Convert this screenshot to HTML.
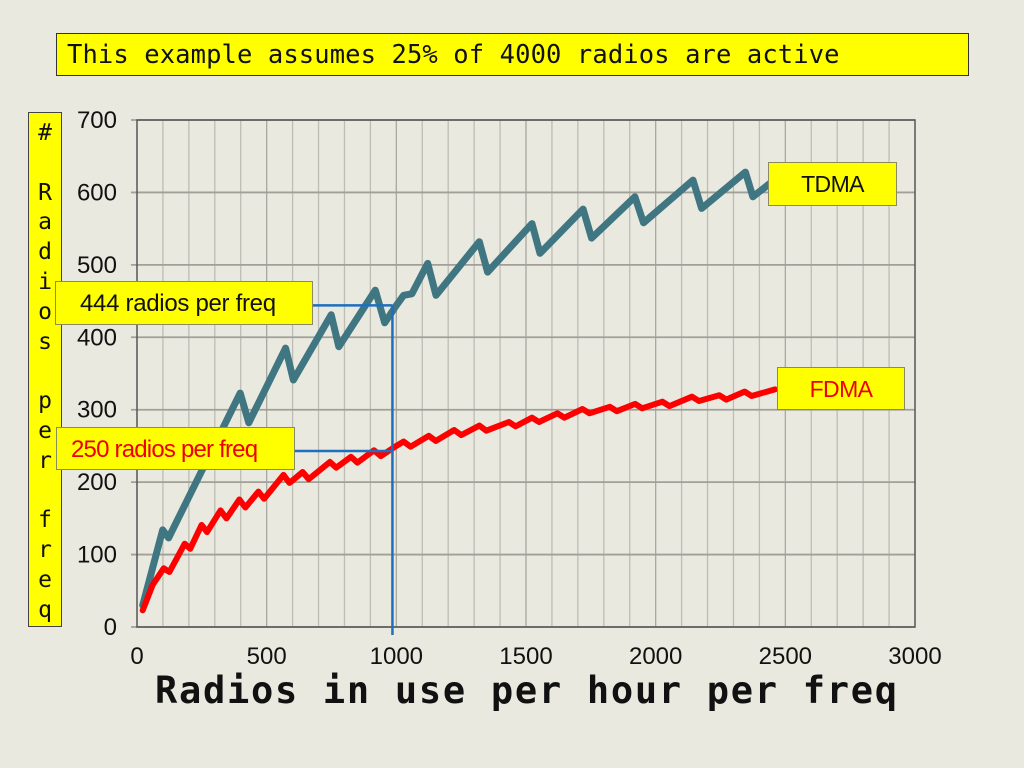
<!DOCTYPE html>
<html><head><meta charset="utf-8">
<style>
html,body{margin:0;padding:0;}
body{width:1024px;height:768px;background:#e9e9e0;position:relative;overflow:hidden;font-family:"Liberation Sans",sans-serif;}
.box{position:absolute;background:#ffff00;border:1px solid #8a8a60;box-sizing:border-box;}
</style></head>
<body>
<div class="box" style="left:56px;top:33px;width:913px;height:43px;border:1.5px solid #333;">
  <span style="position:absolute;left:10px;top:6px;font-family:'DejaVu Sans Mono','Liberation Mono',monospace;font-size:25.5px;color:#111;white-space:nowrap;letter-spacing:0.1px;">This example assumes 25% of 4000 radios are active</span>
</div>
<div class="box" style="left:28px;top:112px;width:34px;height:515px;border:1px solid #444;">
  <div style="position:absolute;left:0;top:6px;width:32px;text-align:center;font-family:'DejaVu Sans Mono','Liberation Mono',monospace;font-size:23px;line-height:29.8px;color:#111;">#<br>&nbsp;<br>R<br>a<br>d<br>i<br>o<br>s<br>&nbsp;<br>p<br>e<br>r<br>&nbsp;<br>f<br>r<br>e<br>q</div>
</div>
<svg id="chart" width="1024" height="768" style="position:absolute;left:0;top:0;">
  <g id="grid"></g>
  <g id="axes"></g>
  <g id="series"></g>
  <text x="526" y="703" text-anchor="middle" font-family="DejaVu Sans Mono, Liberation Mono, monospace" font-weight="bold" font-size="37" fill="#111" textLength="742">Radios in use per hour per freq</text>
</svg>
<div class="box" style="left:768px;top:162px;width:129px;height:44px;"><span style="position:absolute;left:0;width:127px;text-align:center;top:8px;font-size:23px;color:#111;letter-spacing:-0.6px;">TDMA</span></div>
<div class="box" style="left:777px;top:367px;width:128px;height:43px;"><span style="position:absolute;left:0;width:126px;text-align:center;top:8px;font-size:23px;color:#e00;letter-spacing:-0.6px;">FDMA</span></div>
<div class="box" style="left:55px;top:281px;width:258px;height:44px;"><span style="position:absolute;left:24px;top:8px;font-size:24px;color:#111;letter-spacing:-0.3px;white-space:nowrap;">444 radios per freq</span></div>
<div class="box" style="left:56px;top:427px;width:239px;height:43px;"><span style="position:absolute;left:14px;top:8px;font-size:24px;color:#e00;letter-spacing:-0.8px;white-space:nowrap;">250 radios per freq</span></div>
<script>
const xTicks=[0,500,1000,1500,2000,2500,3000];
const yTicks=[0,100,200,300,400,500,600,700];
const tdmaX=[22,99,122,398,431,573,603,749,778,919,955,1000,1028,1060,1121,1153,1320,1352,1523,1554,1720,1753,1920,1953,2144,2177,2346,2375,2460];
const tdmaY=[30,134,123,323,282,385,341,431,387,465,420,444,458,460,502,458,532,490,557,516,577,537,594,558,617,578,628,594,618];
const fdmaX=[22,60,103,125,184,205,249,270,322,345,395,418,468,490,565,588,639,662,744,768,825,850,914,940,1000,1028,1055,1125,1152,1223,1250,1320,1347,1434,1460,1523,1550,1621,1648,1718,1745,1823,1850,1921,1948,2026,2053,2140,2167,2245,2272,2343,2370,2460];
const fdmaY=[23,58,81,76,115,108,141,131,161,150,176,165,187,177,210,199,214,204,228,220,235,227,244,236,250,256,249,264,257,272,265,278,271,283,277,289,283,295,289,301,295,304,298,308,302,311,305,318,312,320,314,325,319,328];
const refX=[985];
const refY=[444,243];
const X0=137,X1=915,Y0=627,Y1=120;
const sx=v=>X0+(v-0)/3000*(X1-X0);
const sy=v=>Y0-(v-0)/700*(Y0-Y1);
const NS='http://www.w3.org/2000/svg';
function mk(parent,tag,attrs){const e=document.createElementNS(NS,tag);for(const k in attrs)e.setAttribute(k,attrs[k]);parent.appendChild(e);return e;}
const grid=document.getElementById('grid'),axes=document.getElementById('axes'),series=document.getElementById('series');
mk(grid,'rect',{x:X0,y:Y1,width:X1-X0,height:Y0-Y1,fill:'#e9e9e0'});
for(let v=100;v<3000;v+=100){
  const l=mk(grid,'line',{x1:sx(v),x2:sx(v),y1:Y1,y2:Y0,stroke:(v%500===0)?'#a8a8a0':'#bdbdb4','stroke-width':1.3});
  
  
}
yTicks.forEach(v=>{
  const l=mk(grid,'line',{x1:X0-6,x2:X1,y1:sy(v),y2:sy(v),stroke:'#a0a098','stroke-width':1.8});
  
  
  const t=mk(axes,'text',{x:X0-20,y:sy(v)+8,'text-anchor':'end','font-size':24,fill:'#111','font-family':'Liberation Sans, sans-serif'});
  t.textContent=v;
  
  
});
xTicks.forEach(v=>{
  const t=mk(axes,'text',{x:sx(v),y:664,'text-anchor':'middle','font-size':24,fill:'#111','font-family':'Liberation Sans, sans-serif'});
  t.textContent=v;
  
  
});
const frame=mk(axes,'rect',{x:X0,y:Y1,width:X1-X0,height:Y0-Y1,fill:'none',stroke:'#555','stroke-width':1.5});


function pts(xs,ys){return xs.map((x,i)=>sx(x).toFixed(1)+','+sy(ys[i]).toFixed(1)).join(' ');}
const tl=mk(series,'polyline',{points:pts(tdmaX,tdmaY),fill:'none',stroke:'#3f7681','stroke-width':7,'stroke-linejoin':'round','stroke-linecap':'round'});


const fl=mk(series,'polyline',{points:pts(fdmaX,fdmaY),fill:'none',stroke:'#ff0000','stroke-width':6,'stroke-linejoin':'round','stroke-linecap':'round'});


const v1=mk(series,'line',{x1:sx(refX[0]),x2:sx(refX[0]),y1:sy(refY[0]),y2:Y0+8,stroke:'#1f6fc0','stroke-width':2.5});


const h1=mk(series,'line',{x1:312,x2:sx(refX[0]),y1:sy(refY[0]),y2:sy(refY[0]),stroke:'#1f6fc0','stroke-width':2.5});


const h2=mk(series,'line',{x1:294,x2:sx(refX[0]),y1:sy(refY[1]),y2:sy(refY[1]),stroke:'#1f6fc0','stroke-width':2.5});


</script>
</body></html>
